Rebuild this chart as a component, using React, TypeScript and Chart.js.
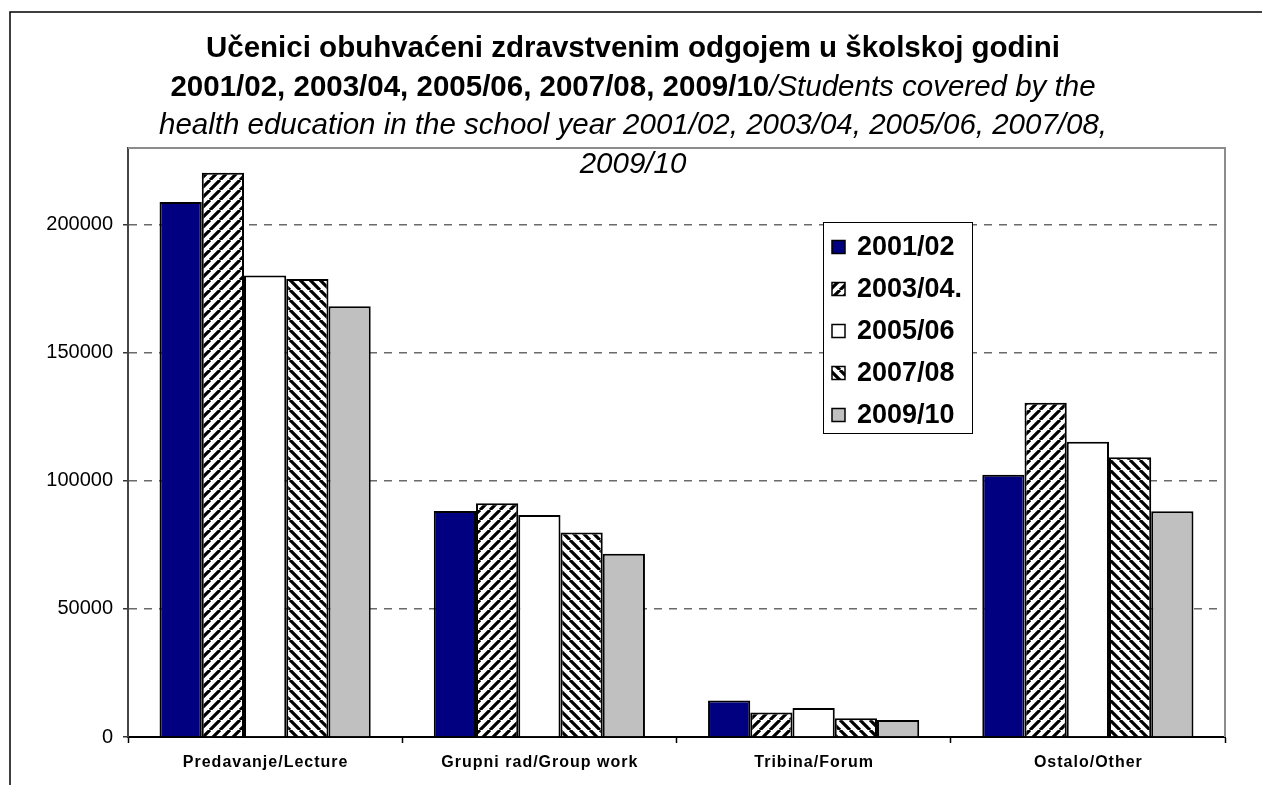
import React, { useEffect, useRef } from "react";
import { Chart, registerables } from "chart.js";

Chart.register(...registerables);

const categories = ["Predavanje/Lecture", "Grupni rad/Group work", "Tribina/Forum", "Ostalo/Other"];
const seriesLabels = ["2001/02", "2003/04.", "2005/06", "2007/08", "2009/10"];
const values2001 = [208900, 88300, 14300, 102400];
const values2003 = [220300, 91300, 9600, 130500];
const values2005 = [180200, 86700, 11300, 115300];
const values2007 = [178800, 79900, 7300, 109200];
const values2009 = [168200, 71600, 6600, 88200];
const yTicks = [0, 50000, 100000, 150000, 200000];
const yMax = 230000;

type Seg = { text: string; bold: boolean; italic: boolean };
const titleLines: Seg[][] = [
  [{ text: "Učenici obuhvaćeni zdravstvenim odgojem u školskoj godini", bold: true, italic: false }],
  [
    { text: "2001/02, 2003/04, 2005/06, 2007/08, 2009/10", bold: true, italic: false },
    { text: "/Students covered by the", bold: false, italic: true },
  ],
  [{ text: "health education in the school year 2001/02, 2003/04, 2005/06, 2007/08,", bold: false, italic: true }],
  [{ text: "2009/10", bold: false, italic: true }],
];

const FONT = "'Liberation Sans', Arial, Helvetica, sans-serif";

function hatch(forward: boolean): CanvasPattern | string {
  const s = 10;
  const c = document.createElement("canvas");
  c.width = s;
  c.height = s;
  const g = c.getContext("2d");
  if (!g) return "#fff";
  g.fillStyle = "#fff";
  g.fillRect(0, 0, s, s);
  g.strokeStyle = "#000";
  g.lineWidth = 3.2;
  g.beginPath();
  for (let k = -1; k <= 1; k++) {
    if (forward) {
      g.moveTo(k * s, s);
      g.lineTo(k * s + s, 0);
    } else {
      g.moveTo(k * s, 0);
      g.lineTo(k * s + s, s);
    }
  }
  g.stroke();
  const p = g.createPattern(c, "repeat");
  return p || "#fff";
}

const decorPlugin = {
  id: "decor",
  beforeDraw(chart: any) {
    const { ctx, width, height } = chart;
    ctx.save();
    ctx.fillStyle = "#fff";
    ctx.fillRect(0, 0, width, height);
    ctx.strokeStyle = "#000";
    ctx.lineWidth = 1.5;
    ctx.beginPath();
    ctx.moveTo(10, height + 5);
    ctx.lineTo(10, 12);
    ctx.lineTo(width + 5, 12);
    ctx.stroke();
    ctx.restore();
  },
  afterDraw(chart: any) {
    const { ctx, chartArea: a } = chart;
    ctx.save();
    // plot area border (top & right)
    ctx.strokeStyle = "#8c8c8c";
    ctx.lineWidth = 2;
    ctx.beginPath();
    ctx.moveTo(a.left, a.top);
    ctx.lineTo(a.right, a.top);
    ctx.lineTo(a.right, a.bottom);
    ctx.stroke();

    // category labels (letter-spaced bold)
    const xs = chart.scales.x;
    ctx.fillStyle = "#000";
    ctx.font = `bold 16px ${FONT}`;
    ctx.textAlign = "center";
    ctx.textBaseline = "middle";
    (ctx as any).letterSpacing = "1px";
    (chart.data.labels as string[]).forEach((lab, i) => {
      ctx.fillText(lab, xs.getPixelForValue(i) + 0.5, 763);
    });
    (ctx as any).letterSpacing = "0px";

    // legend
    const lx = 823, ly = 222, lw = 149, lh = 211;
    ctx.fillStyle = "#fff";
    ctx.fillRect(lx, ly, lw, lh);
    ctx.strokeStyle = "#000";
    ctx.lineWidth = 1;
    ctx.strokeRect(lx + 0.5, ly + 0.5, lw, lh);
    const ds = chart.data.datasets;
    ctx.font = `bold 27px ${FONT}`;
    ctx.textBaseline = "middle";
    ctx.textAlign = "left";
    for (let i = 0; i < ds.length; i++) {
      const cy = 247 + i * 42;
      const bx = 832, by = cy - 6.5, bs = 13;
      ctx.fillStyle = ds[i].backgroundColor;
      ctx.fillRect(bx, by, bs, bs);
      ctx.strokeStyle = "#000";
      ctx.lineWidth = 1.5;
      ctx.strokeRect(bx, by, bs, bs);
      ctx.fillStyle = "#000";
      ctx.fillText(ds[i].label, 857, cy + 1);
    }

    // title
    const cx = 633;
    const ys = [49, 87.5, 126, 164.5];
    ctx.fillStyle = "#000";
    ctx.textBaseline = "middle";
    ctx.textAlign = "left";
    titleLines.forEach((line, li) => {
      const fonts = line.map((s) => `${s.italic ? "italic " : ""}${s.bold ? "bold " : ""}29.5px ${FONT}`);
      let total = 0;
      const widths = line.map((s, i) => {
        ctx.font = fonts[i];
        const w = ctx.measureText(s.text).width;
        total += w;
        return w;
      });
      let x = cx - total / 2;
      line.forEach((s, i) => {
        ctx.font = fonts[i];
        ctx.fillText(s.text, x, ys[li]);
        x += widths[i];
      });
    });
    ctx.restore();
  },
};

export default function App() {
  const ref = useRef<HTMLCanvasElement | null>(null);
  useEffect(() => {
    if (!ref.current) return;
    const fills = ["#000080", hatch(true), "#ffffff", hatch(false), "#c0c0c0"];
    const vals = [values2001, values2003, values2005, values2007, values2009];
    const chart = new Chart(ref.current, {
      type: "bar",
      data: {
        labels: categories,
        datasets: seriesLabels.map((label, i) => ({
          label,
          data: vals[i],
          backgroundColor: fills[i] as any,
          borderColor: "#000",
          borderWidth: 2,
          categoryPercentage: 0.77,
          barPercentage: 1,
        })),
      },
      options: {
        responsive: false,
        animation: false,
        events: [],
        layout: { padding: { left: 0, top: 148, right: 37, bottom: 0 } },
        plugins: { legend: { display: false }, title: { display: false }, tooltip: { enabled: false } },
        scales: {
          x: {
            afterFit: (s: any) => {
              s.height = 48;
            },
            grid: {
              display: true,
              offset: true,
              drawOnChartArea: false,
              drawTicks: true,
              tickLength: 6,
              tickColor: "#000",
              tickWidth: 1.5,
            },
            border: { display: true, color: "#000", width: 2 },
            ticks: { display: false },
          },
          y: {
            min: 0,
            max: yMax,
            afterFit: (s: any) => {
              s.width = 128;
            },
            afterBuildTicks: (s: any) => {
              s.ticks = yTicks.map((v) => ({ value: v }));
            },
            grid: {
              color: (c: any) => (c.tick && c.tick.value === 0 ? "rgba(0,0,0,0)" : "#6a6a6a"),
              lineWidth: 1.5,
              drawTicks: true,
              tickLength: 5,
              tickColor: "#333",
              tickWidth: 1.5,
            },
            border: { display: true, color: "#444", width: 2, dash: [8, 7] },
            ticks: {
              color: "#000",
              font: { family: FONT, size: 20 },
              padding: 10,
              callback: (v: any) => String(v),
            },
          },
        },
      },
      plugins: [decorPlugin],
    });
    return () => chart.destroy();
  }, []);
  return (
    <div style={{ position: "absolute", left: 0, top: 0, width: 1262, height: 785 }}>
      <canvas ref={ref} width={1262} height={785} style={{ display: "block" }} />
    </div>
  );
}
